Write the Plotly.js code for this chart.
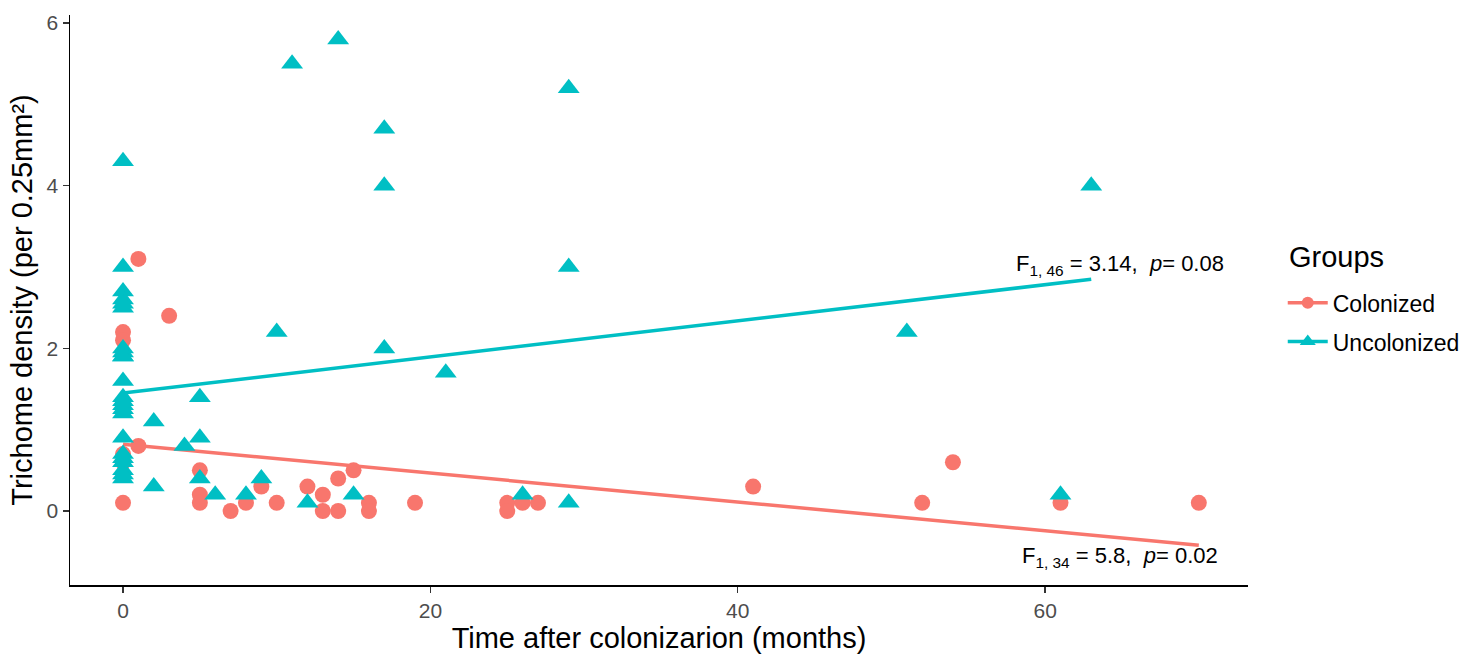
<!DOCTYPE html>
<html>
<head>
<meta charset="utf-8">
<script src="https://cdn.plot.ly/plotly-3.0.1.min.js"></script>
<style>html,body{margin:0;padding:0;background:#fff;}#chart{width:1473px;height:655px;}</style>
</head>
<body>
<div id="chart"></div>
<script>
// Colonized group (circles)
const colonizedX = [0,0,0,0,0, 1,1, 3, 5,5,5, 7, 8, 9, 10, 12, 13,13, 14,14, 15, 16,16, 19, 25,25, 26, 27, 41, 52, 54, 61, 70];
const colonizedY = [2.2,2.1,0.7,0.6,0.1, 3.1,0.8, 2.4, 0.5,0.2,0.1, 0.0, 0.1, 0.3, 0.1, 0.3, 0.2,0.0, 0.4,0.0, 0.5, 0.1,0.0, 0.1, 0.1,0.0, 0.1, 0.1, 0.3, 0.1, 0.6, 0.1, 0.1];

// Uncolonized group (triangles)
const uncolonizedX = [0,0,0,0,0,0,0,0,0,0,0,0,0,0,0,0, 0,0,0,0,0,0,0, 2,2, 4, 5,5,5, 6, 8, 9, 10, 11, 12, 14, 15, 17,17,17, 21, 26, 29,29,29, 51, 61, 63];
const uncolonizedY = [4.3,3.0,2.7,2.6,2.5,2.0,1.9,1.6,1.4,1.3,1.2,0.9,0.7,0.6,0.5,0.4, 1.95,1.9,1.35,1.25,0.65,0.45,2.55, 1.1,0.3, 0.8, 1.4,0.9,0.4, 0.2, 0.2, 0.4, 2.2, 5.5, 0.1, 5.8, 0.2, 4.7,4.0,2.0, 1.7, 0.2, 5.2,3.0,0.1, 2.2, 0.2, 4.0];

// Fitted regression lines
const fitColX = [0, 70];
const fitColY = [0.82, -0.42];
const fitUncX = [0, 63];
const fitUncY = [1.45, 2.85];

const groupNames = ["Colonized", "Uncolonized"];
const legendTitle = "Groups";
const statLabels = [
  "F<sub>1, 34</sub> = 5.8,  <i>p</i>= 0.02",
  "F<sub>1, 46</sub> = 3.14,  <i>p</i>= 0.08"
];
const statX = [71.4, 71.75];
const statY = [-0.57, 3.03];

const RED = "#F8766D", TEAL = "#00BFC4";
const FONT = "Arial, 'Liberation Sans', sans-serif";

const traces = [
  {x: fitColX, y: fitColY, type: "scatter", mode: "lines", line: {color: RED, width: 3.5}, showlegend: false, hoverinfo: "skip"},
  {x: fitUncX, y: fitUncY, type: "scatter", mode: "lines", line: {color: TEAL, width: 3.5}, showlegend: false, hoverinfo: "skip"},
  {x: colonizedX, y: colonizedY, type: "scatter", mode: "markers", name: groupNames[0], showlegend: false,
   marker: {color: RED, size: 16, symbol: "circle", line: {width: 0}}},
  {x: uncolonizedX, y: uncolonizedY, type: "scatter", mode: "markers", name: groupNames[1], showlegend: false,
   marker: {color: TEAL, size: 19, symbol: "triangle-up", line: {width: 0}}},
  {x: [null], y: [null], type: "scatter", mode: "lines+markers", name: groupNames[0], legendgroup: "a",
   line: {color: RED, width: 3.5}, marker: {color: RED, size: 12, symbol: "circle"}},
  {x: [null], y: [null], type: "scatter", mode: "lines+markers", name: groupNames[1], legendgroup: "b",
   line: {color: TEAL, width: 3.5}, marker: {color: TEAL, size: 14, symbol: "triangle-up"}}
];

const annotations = statLabels.map((t, i) => ({
  x: statX[i], y: statY[i], xref: "x", yref: "y", text: t, showarrow: false,
  xanchor: "right", yanchor: "middle", font: {size: 22, color: "#000", family: FONT}
}));
annotations.push({
  x: 1.0331, y: 0.5754, xref: "paper", yref: "paper", text: legendTitle, showarrow: false,
  xanchor: "left", yanchor: "middle", font: {size: 29, color: "#000", family: FONT}
});

const layout = {
  width: 1473, height: 655,
  margin: {l: 70, r: 225, t: 15, b: 70, autoexpand: false},
  paper_bgcolor: "#fff", plot_bgcolor: "#fff",
  font: {family: FONT, color: "#000"},
  xaxis: {
    range: [-3.45, 73.2], tickvals: [0, 20, 40, 60], ticktext: ["0","20","40","60"],
    showgrid: false, zeroline: false, showline: true, linecolor: "#000", linewidth: 1.5,
    ticks: "outside", ticklen: 6, tickwidth: 1.3, tickcolor: "#333",
    tickfont: {size: 21, color: "#4d4d4d", family: FONT},
    title: {text: "Time after colonizarion (months)", font: {size: 29, color: "#000", family: FONT}, standoff: 4}
  },
  yaxis: {
    range: [-0.91, 6.1], tickvals: [0, 2, 4, 6], ticktext: ["0","2","4","6"],
    showgrid: false, zeroline: false, showline: true, linecolor: "#000", linewidth: 1.5,
    ticks: "outside", ticklen: 6, tickwidth: 1.3, tickcolor: "#333",
    tickfont: {size: 21, color: "#4d4d4d", family: FONT},
    title: {text: "Trichome density (per 0.25mm²)", font: {size: 29, color: "#000", family: FONT}, standoff: 5}
  },
  legend: {
    x: 1.0295, y: 0.533, xanchor: "left", yanchor: "top",
    font: {size: 23, color: "#000", family: FONT},
    itemwidth: 40, tracegroupgap: 6, bgcolor: "rgba(0,0,0,0)"
  },
  annotations: annotations
};

Plotly.newPlot("chart", traces, layout, {displayModeBar: false, staticPlot: true});
</script>
</body>
</html>
